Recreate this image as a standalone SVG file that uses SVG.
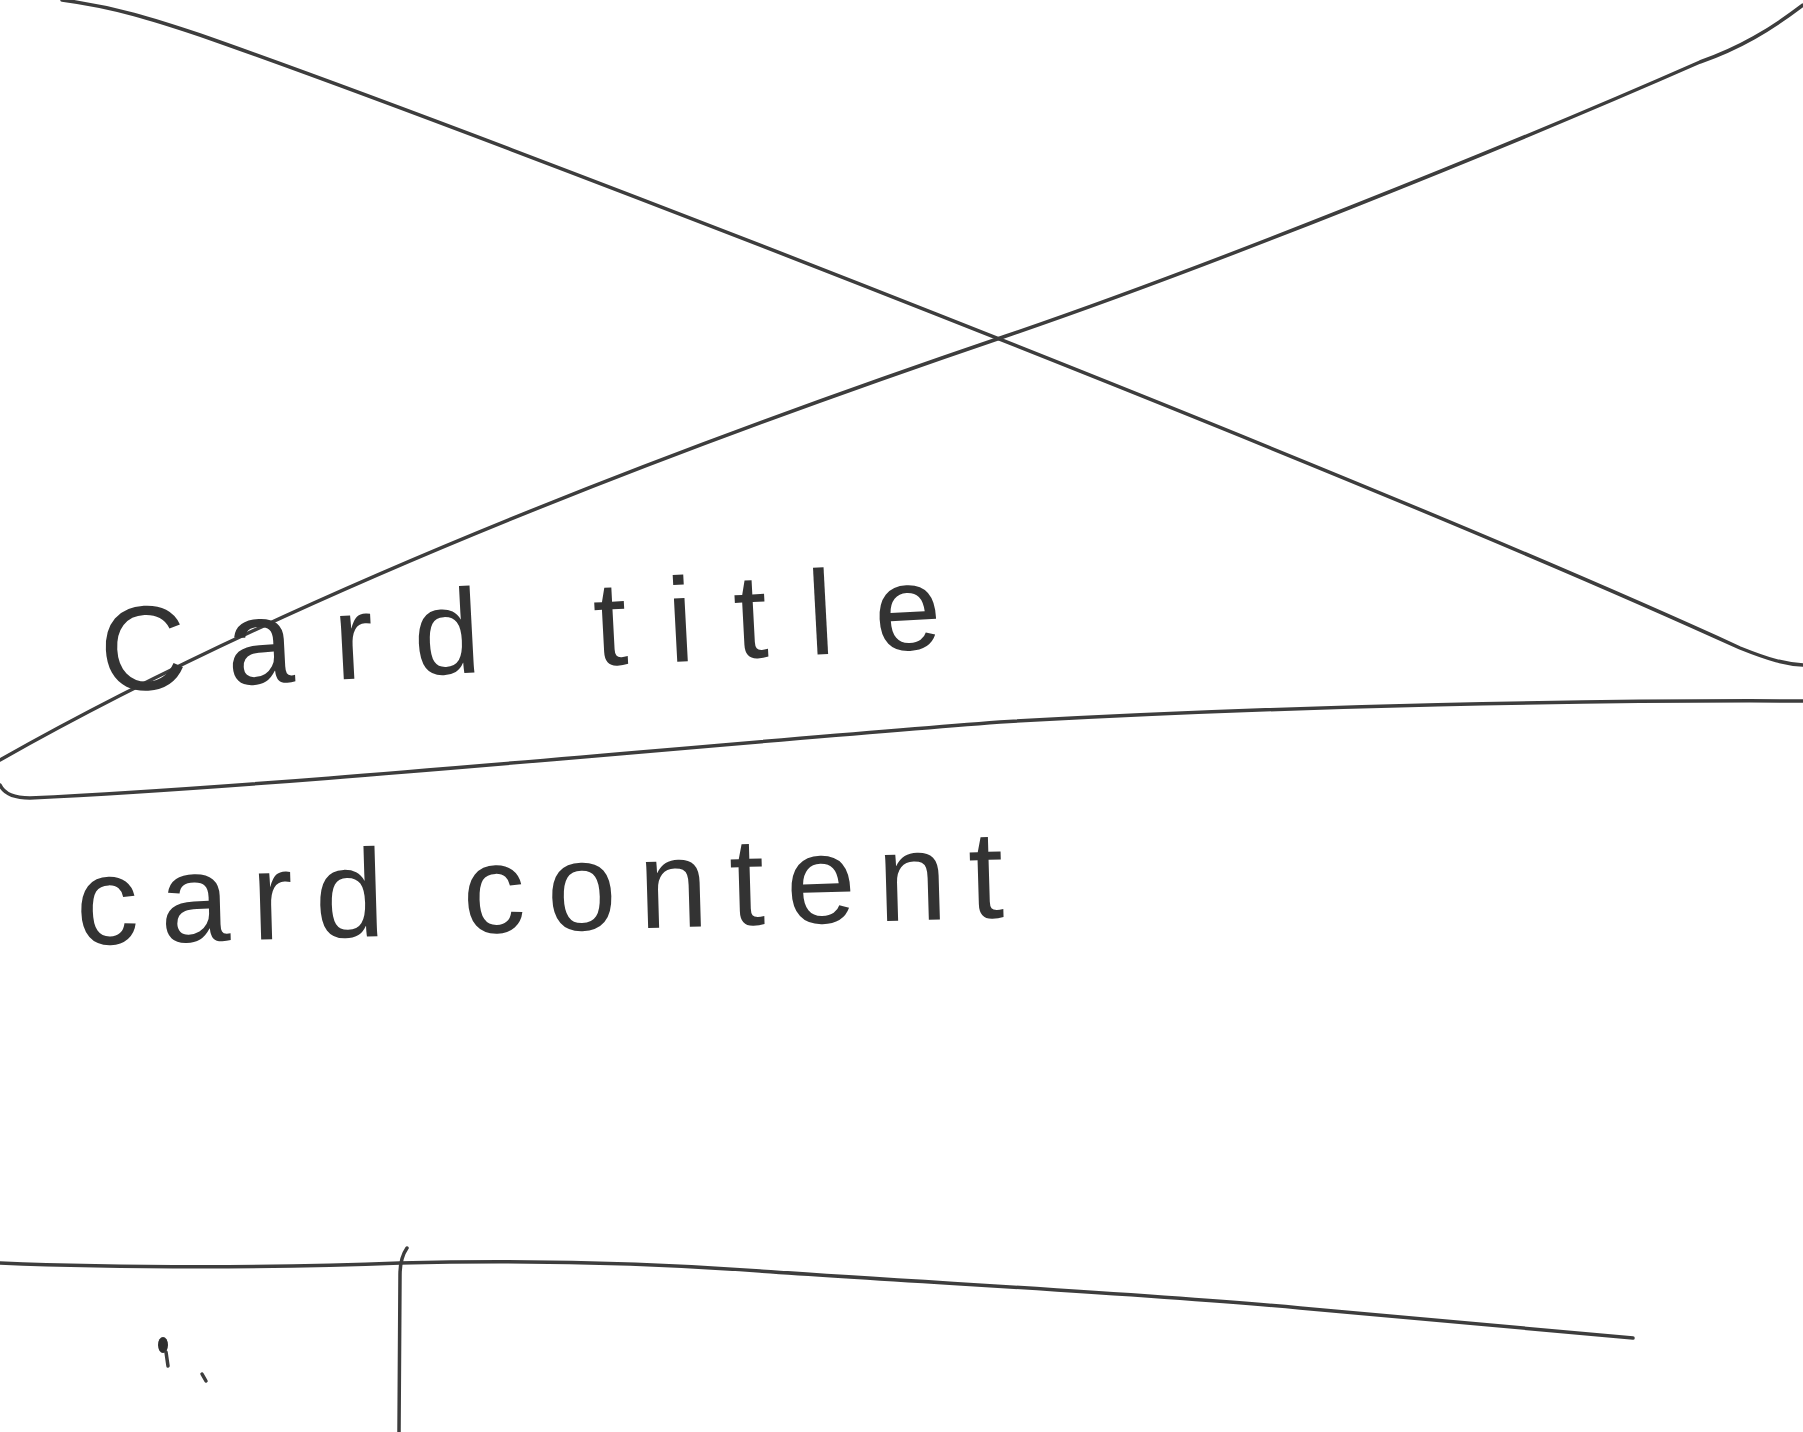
<svg xmlns="http://www.w3.org/2000/svg" width="1803" height="1432" viewBox="0 0 1803 1432">
<style>
.ln{fill:none;stroke:#3d3d3d;stroke-width:3.5;stroke-linecap:round;stroke-linejoin:round}
.hw{font-family:"Liberation Sans","DejaVu Sans",sans-serif;fill:#333333}
</style>
<rect x="0" y="0" width="1803" height="1432" fill="#ffffff"/>
<g id="image-placeholder">
<path class="ln" d="M62,0 C115,7 155,20 200,35 C500,140 1350,470 1740,648 C1770,660 1785,664 1803,665"/>
<path class="ln" d="M1803,5 C1770,30 1740,48 1700,62 C1500,150 1200,270 1006,336 C700,440 300,590 0,760"/>
</g>
<g id="title-divider">
<path class="ln" d="M0,785 Q6,798 30,798 C300,785 700,745 1000,722 C1300,705 1600,700 1803,701"/>
</g>
<g id="card-title">
<text class="hw" x="102" y="692" font-size="120" textLength="842" lengthAdjust="spacing" transform="rotate(-3 102 692)">Card title</text>
</g>
<g id="card-content">
<text class="hw" x="77" y="945" font-size="125" textLength="928" lengthAdjust="spacing" transform="rotate(-1.7 77 945)">card content</text>
</g>
<g id="footer">
<path class="ln" d="M0,1263 C120,1268 280,1268 400,1263 C520,1260 650,1263 760,1271 C950,1284 1150,1294 1300,1308 C1450,1322 1560,1332 1633,1338"/>
<path class="ln" stroke-width="3" d="M407,1248 Q400,1258 400,1275 L399,1432"/>
<ellipse cx="163" cy="1345" rx="5" ry="8" fill="#2e2e2e"/>
<path class="ln" stroke-width="1.5" d="M166,1352 L168,1366"/>
<path class="ln" stroke-width="2" d="M202,1374 L206,1381"/>
</g>
</svg>
